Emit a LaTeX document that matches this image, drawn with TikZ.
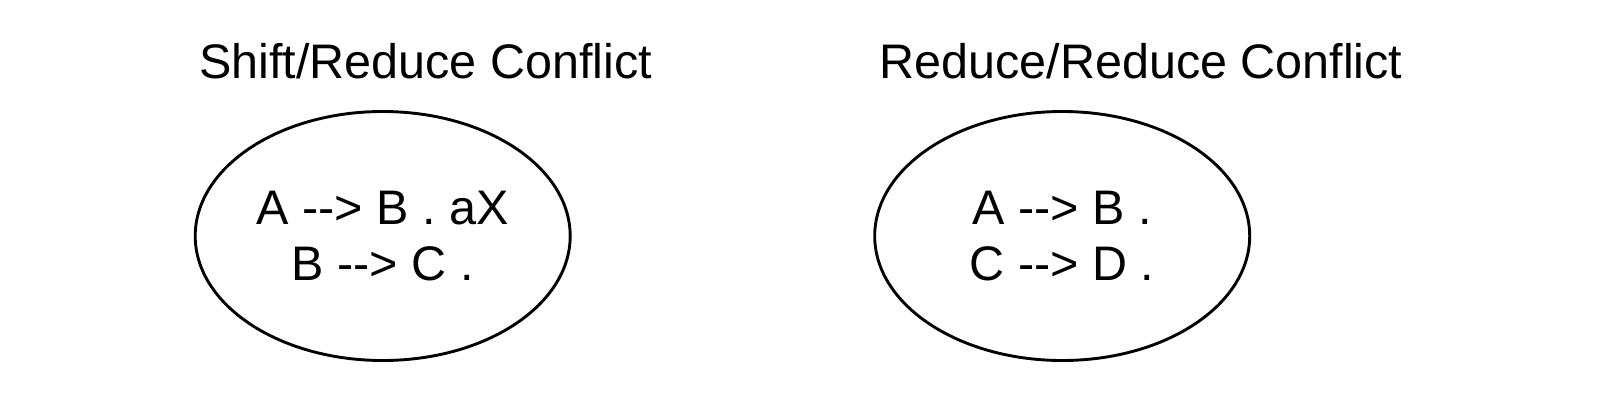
\documentclass[tikz,border=0pt]{standalone}
\usepackage{fontspec}
\setmainfont{Liberation Sans}
\usetikzlibrary{shapes.geometric}
\begin{document}
\begin{tikzpicture}[x=1pt,y=-1pt,
  state/.style={ellipse,draw,line width=2.9pt,minimum width=375pt,minimum height=249pt,inner sep=0pt,align=center,
    font=\fontsize{48.5}{56}\selectfont},
  title/.style={font=\fontsize{48.5}{56}\selectfont,inner sep=0pt,anchor=base}]
\useasboundingbox (0,0) rectangle (1600,408);
\node[title] (t1) at (425.5,78.5) {Shift/Reduce Conflict};
\node[title] (t2) at (1141,78.5) {Reduce/Reduce Conflict};
\node[state] (s1) at (382.7,236) {A -{}-> B . aX\\B -{}-> C .};
\node[state] (s2) at (1062.2,236) {A -{}-> B .\\C -{}-> D .};
\end{tikzpicture}
\end{document}
